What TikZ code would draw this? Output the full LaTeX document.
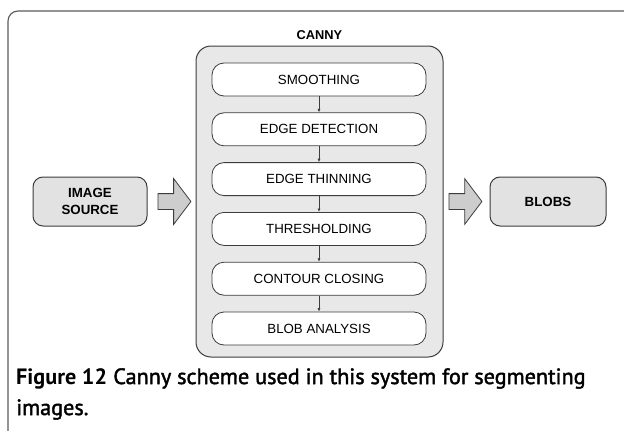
\documentclass[tikz,border=0pt]{standalone}
\usepackage{fontspec}
\setmainfont{Liberation Sans}
\newfontfamily\capfont{PT Sans}
\newfontfamily\capsemi[FakeBold=1.8]{PT Sans}
\usepackage{tikz}
\usetikzlibrary{shapes.arrows, arrows.meta, positioning}
\definecolor{lineg}{RGB}{60,60,60}
\definecolor{frameg}{RGB}{90,90,90}
\definecolor{panelg}{RGB}{232,232,232}
\definecolor{boxg}{RGB}{226,226,226}
\definecolor{arrowg}{RGB}{205,205,205}

\begin{document}
\begin{tikzpicture}[
      x=1pt, y=-1pt,
      frame/.style={draw=frameg, line width=1.1pt, rounded corners=10pt},
      panel/.style={draw=lineg, fill=panelg, rounded corners=15pt,
                    line width=1pt, minimum width=247pt, minimum height=311pt},
      stage/.style={draw=lineg, fill=white, rounded corners=12pt, line width=0.8pt,
                    minimum width=214pt, minimum height=33pt, inner sep=0pt,
                    font=\fontsize{13.3}{15}\selectfont},
      endbox/.style={draw=lineg, fill=boxg, rounded corners=10pt, line width=1pt,
                     minimum height=49pt, align=center, inner sep=0pt,
                     font=\bfseries\fontsize{13.3}{17}\selectfont},
      bigarrow/.style={single arrow, draw=lineg, fill=arrowg, line width=0.8pt,
                       minimum height=33pt, minimum width=45pt, inner sep=7.5pt,
                       single arrow head extend=15pt, single arrow tip angle=106},
      link/.style={-{Latex[length=3.5pt,width=3pt]}, draw=lineg, line width=0.7pt},
  ]
    \useasboundingbox (0,0) rectangle (624,431);
    \draw[frame] (8,431) -- (8,11) -- (624,11);

    % canny block with its stages
    \node[panel] (canny) at (319.5,201.5) {};
    \node[font=\bfseries\fontsize{12.8}{14}\selectfont, inner sep=0pt,
          above=6pt of canny] (title) {CANNY};
    \node[stage] (smooth) at (319,79.5) {SMOOTHING};
    \node[stage, below=16pt of smooth] (detect) {EDGE DETECTION};
    \node[stage, below=16pt of detect] (thin)   {EDGE THINNING};
    \node[stage, below=16pt of thin]   (thresh) {THRESHOLDING};
    \node[stage, below=16pt of thresh] (close)  {CONTOUR CLOSING};
    \node[stage, below=16pt of close]  (blob)   {BLOB ANALYSIS};

    \foreach \a/\b in {smooth/detect, detect/thin, thin/thresh, thresh/close, close/blob}
      \draw[link] (\a) -- (\b);

    % input and output
    \node[endbox, minimum width=114pt] (src) at (90,201.5) {IMAGE\\SOURCE};
    \node[endbox, minimum width=116pt] (blobs) at (548,201.5) {BLOBS};
    \node[bigarrow, right=10pt of src]  (inarr)  {};
    \node[bigarrow, right=5pt of canny] (outarr) {};

    % caption
    \node[anchor=north west, align=left, inner sep=0pt,
          font=\fontsize{22.2}{31}\selectfont] (cap) at (16,368)
      {{\capfont\bfseries Figure 12} \capsemi Canny scheme used in this system for segmenting\\
       \capsemi images.};
  \end{tikzpicture}
\end{document}
